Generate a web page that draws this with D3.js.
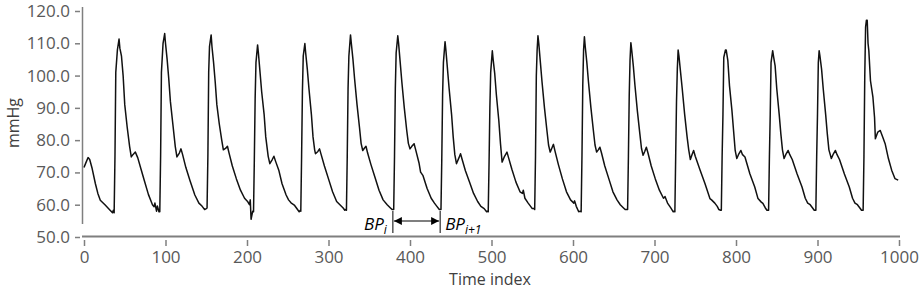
<!DOCTYPE html>
<html>
<head>
<meta charset="utf-8">
<script src="https://cdn.jsdelivr.net/npm/d3@7"></script>
<style>
  body { margin: 0; background: #fff; }
  svg { display: block; font-family: "Open Sans", "Noto Sans", sans-serif; }
</style>
</head>
<body>
<svg id="chart" width="920" height="292"></svg>
<script>
// arterial pressure trace, [time index, mmHg], one row per beat
var pulse = [
  [0,71.5],[2,72.8],[5,74.6],[7,74],[10,71.2],[14,66.5],[17,63.5],[20,61.4],[26,59.9],[32,58.3],[35,57.5],[36,58.3],
  [37,57.5],[38,75],[39,101],[41,108],[43,111.3],[44,108.5],[46,106],[48,100],[50,91],[53,84],[56,78],[58,74.8],[60,75.5],[63,76.3],[66,74.5],[70,71],[74,67.5],[79,63.2],[84,60],[86,59.4],[87,60.5],[89,58],[90,59.6],[92,57.8],
  [93,57.8],[94,75],[95,101],[97,110],[99,113],[100,110],[102,105],[104,99],[106,92],[109,85],[112,78],[114,74.8],[117,76],[119,77.3],[121,75.5],[125,71.5],[130,67.5],[136,63],[141,60.5],[145,59.5],[148,58.5],[150,58.8],
  [151,59],[152,75],[153,101],[154,109],[156,112.6],[157,109],[159,104],[161,98],[163,91],[166,85],[169,80],[171,77],[174,77.5],[176,78.1],[178,76],[182,72],[187,68],[192,64.5],[197,62],[201,60.9],[203,60],[204,61.5],[205,55.5],[207,58],
  [208,57.8],[209,74],[210,93],[211,104],[213,109.5],[214,107],[216,101],[218,95],[221,88],[223,81],[226,75],[228,72.7],[231,74],[233,75],[235,73.5],[239,70.7],[243,66.5],[248,63],[251,61.5],[254,60.6],[258,59.9],[262,58.5],[264,57.8],[265,58.2],
  [266,58],[267,75],[268,95],[269,106],[271,109.9],[272,107],[274,102],[276,96],[279,88],[281,81],[283,77],[284,75.8],[287,76.5],[289,77.3],[291,75.5],[295,72],[300,68],[305,64],[310,61],[314,60],[318,59],[320,58.3],[321,58.5],
  [322,58.3],[323,75],[324,96],[325,106],[327,112.6],[328,110],[330,105],[332,99],[335,91],[338,84],[340,79],[342,76.8],[344,77.5],[346,78.1],[348,76],[352,72.5],[357,68.5],[362,64.5],[367,61.5],[372,60],[376,59],[378,58.5],[379,58.5],
  [380,58.5],[381,75],[382,96],[383,107],[385,112.3],[386,110],[388,104],[390,98],[393,90],[396,83],[398,79],[400,77.3],[402,78],[405,78.9],[407,77],[411,73],[413,70.1],[416,69],[421,65],[426,62],[430,60.5],[433,59.5],[436,58.5],[437,58.5],
  [438,58.5],[439,74],[440,94],[441,104],[443,110.5],[444,108],[446,102],[448,96],[451,88],[453,81],[455,75.5],[457,72.7],[460,74.5],[462,75.8],[464,74],[468,70.5],[473,67],[478,63.5],[483,61],[487,59.5],[491,58.8],[494,57.8],[495,58],
  [496,57.8],[497,73],[498,90],[499,101],[501,107.7],[502,105],[504,100.5],[506,94],[509,86],[511,79],[513,73.2],[516,75],[519,76.3],[521,74.5],[525,71],[530,67],[535,64],[538,63.5],[539,64.5],[541,62],[545,60.5],[548,59.5],[550,58.8],[552,58.8],
  [553,58.5],[554,75],[555,100],[556,108],[557,112.3],[558,110],[560,104],[562,98],[565,90],[568,83],[570,78.5],[572,76.3],[574,77.5],[576,78.7],[578,76.5],[582,72.5],[587,68],[592,64],[597,61.5],[601,60.5],[602,61.2],[604,59.5],[607,57.8],[609,58],
  [610,57.8],[611,75],[612,97],[613,108],[614,112],[615,109],[617,104],[619,98],[622,90],[625,83],[627,78.5],[629,76.3],[631,77],[633,77.8],[635,76],[639,72],[644,68],[649,64],[654,61.5],[658,60],[662,59],[664,58.5],[666,58.5],
  [667,58.5],[668,75],[669,94],[670,105],[671,110.2],[672,108],[674,103],[676,97],[679,89],[682,82],[684,77.5],[686,75.3],[688,76.5],[690,77.8],[692,76],[696,72],[701,68],[706,64.5],[711,62],[713,62.5],[716,60.5],[720,59],[723,57.8],[724,58],
  [725,57.8],[726,75],[727,92],[728,102],[729,107.9],[730,106],[732,101],[734,96],[737,88],[740,81],[742,77],[744,74],[746,75.5],[748,76.8],[750,75],[756,70.7],[762,66.5],[768,61.9],[770,61.5],[774,60.5],[777,59.5],[779,58.5],[781,58.3],
  [782,58.3],[783,75.3],[784,88],[785,105.6],[787,107.9],[788,107.9],[790,104.6],[792,96.9],[795,89.2],[797,83],[799,76.8],[801,74.3],[803,75.5],[806,76.8],[808,75.5],[811,74.8],[817,69.6],[823,65.5],[827,61.9],[831,60.8],[833,60.4],[836,59],[838,58.3],[839,58.3],
  [840,58.3],[841,75],[842,88],[843,104],[845,107.7],[846,106],[848,103],[850,96],[853,88],[855,82],[857,77],[859,74.3],[861,75.5],[864,76.8],[866,75.5],[869,74],[875,69.5],[881,65.5],[885,62],[888,60.5],[891,60],[894,59],[896,58.3],[897,58.3],
  [898,58.3],[899,75],[900,88],[901,104],[902,107.7],[903,106],[905,102],[907,96],[910,88],[912,82],[914,77],[917,74.3],[919,75.5],[922,76.8],[924,75.5],[927,74],[933,69.5],[939,65.5],[943,62],[946,60.5],[949,60],[952,59],[954,58.3],[955,58.3],
  [956,58.3],[957,75],[958,100],[959,115],[960,117.1],[961,117.1],[962,110],[963,107.7],[965,98.4],[968,93.3],[970,87],[971,80.4],[974,82.5],[977,83],[980,81],[983,78.9],[987,74.3],[991,70.7],[995,68.1],[999,67.6]
];

var xTicks = [0, 100, 200, 300, 400, 500, 600, 700, 800, 900, 1000];
var yTicks = [50, 60, 70, 80, 90, 100, 110, 120];

// beat-to-beat interval marker (two consecutive feet)
var bpFoot = [379, 437];

var svg = d3.select("#chart");

var x = d3.scaleLinear().domain([0, 1000]).range([84, 899]);
var y = d3.scaleLinear().domain([50, 120]).range([237, 11]);

var axisColor = "#7f7f7f";
var textColor = "#595959";

// axis lines (drawn apart from the ticks, like the original)
svg.append("line")
  .attr("x1", 82.5).attr("x2", 82.5)
  .attr("y1", 7).attr("y2", 224)
  .attr("stroke", axisColor).attr("stroke-width", 1.5);

svg.append("line")
  .attr("x1", 82).attr("x2", 900)
  .attr("y1", 236.5).attr("y2", 236.5)
  .attr("stroke", axisColor).attr("stroke-width", 1.8);

var yAxis = svg.append("g")
  .attr("transform", "translate(80,0)")
  .call(d3.axisLeft(y).tickValues(yTicks).tickSize(5).tickPadding(5)
    .tickFormat(d3.format(".1f")));

var xAxis = svg.append("g")
  .attr("transform", "translate(0,240)")
  .call(d3.axisBottom(x).tickValues(xTicks).tickSize(6).tickPadding(5)
    .tickFormat(d3.format("d")));

[yAxis, xAxis].forEach(function (g) {
  g.select(".domain").remove();
  g.selectAll(".tick line").attr("stroke", axisColor).attr("stroke-width", 1.5);
  g.selectAll(".tick text")
    .attr("fill", textColor)
    .style("font-size", "17px")
    .style("font-family", "'Open Sans', 'Noto Sans', sans-serif");
});

svg.append("text")
  .attr("x", 490).attr("y", 285)
  .attr("text-anchor", "middle")
  .attr("fill", "#404040")
  .style("font-size", "16px")
  .text("Time index");

svg.append("text")
  .attr("transform", "translate(19,123) rotate(-90)")
  .attr("text-anchor", "middle")
  .attr("fill", "#404040")
  .style("font-size", "16px")
  .text("mmHg");

// waveform
var line = d3.line()
  .x(function (d) { return x(d[0]); })
  .y(function (d) { return y(d[1]); });

svg.append("path")
  .datum(pulse)
  .attr("fill", "none")
  .attr("stroke", "#111")
  .attr("stroke-width", 1.5)
  .attr("stroke-linejoin", "round")
  .attr("d", line);

// interval annotation
var defs = svg.append("defs");
["arrowEnd", "arrowStart"].forEach(function (id, i) {
  defs.append("marker")
    .attr("id", id)
    .attr("viewBox", "0 0 10 10")
    .attr("refX", 10).attr("refY", 5)
    .attr("markerWidth", 8).attr("markerHeight", 8)
    .attr("markerUnits", "userSpaceOnUse")
    .attr("orient", i === 0 ? "auto" : "auto-start-reverse")
    .append("path")
    .attr("d", "M0,0L10,5L0,10z")
    .attr("fill", "#000");
});

svg.selectAll(".foot")
  .data(bpFoot)
  .enter().append("line")
  .attr("class", "foot")
  .attr("x1", function (d) { return x(d); })
  .attr("x2", function (d) { return x(d); })
  .attr("y1", 211).attr("y2", 233)
  .attr("stroke", "#000").attr("stroke-width", 1);

svg.append("line")
  .attr("x1", x(bpFoot[0]) + 1).attr("x2", x(bpFoot[1]) - 1)
  .attr("y1", 221).attr("y2", 221)
  .attr("stroke", "#000").attr("stroke-width", 1.2)
  .attr("marker-start", "url(#arrowStart)")
  .attr("marker-end", "url(#arrowEnd)");

var lab1 = svg.append("text")
  .attr("x", x(bpFoot[0]) - 6).attr("y", 230)
  .attr("text-anchor", "end")
  .attr("fill", "#000")
  .style("font-size", "17px").style("font-style", "italic");
lab1.append("tspan").text("BP");
lab1.append("tspan").attr("dy", 4).style("font-size", "12px").text("i");

var lab2 = svg.append("text")
  .attr("x", x(bpFoot[1]) + 5).attr("y", 230)
  .attr("fill", "#000")
  .style("font-size", "17px").style("font-style", "italic");
lab2.append("tspan").text("BP");
lab2.append("tspan").attr("dy", 4).style("font-size", "12px").text("i+1");
</script>
</body>
</html>
